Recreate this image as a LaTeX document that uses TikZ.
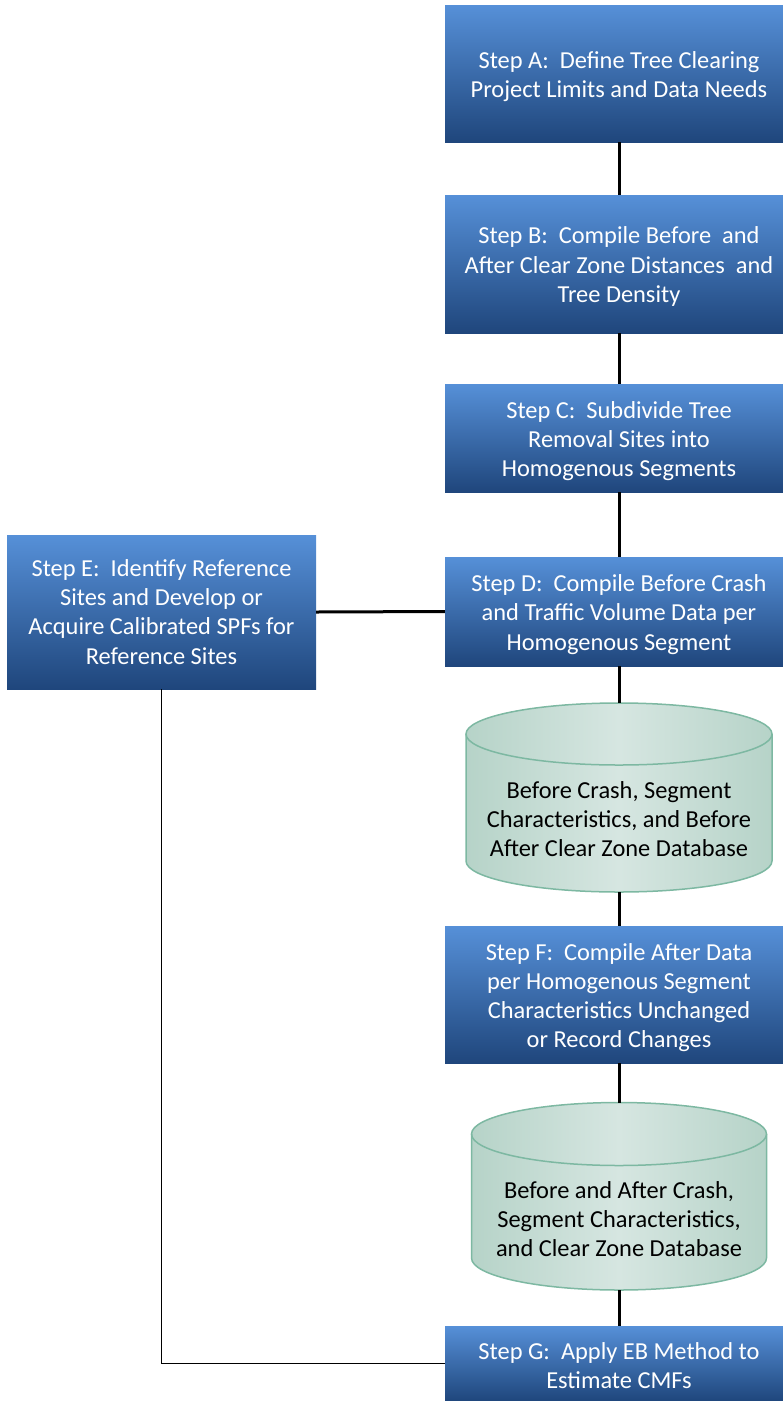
\documentclass[tikz,border=0pt]{standalone}
\usepackage{fontspec}
\setmainfont{Carlito}
\definecolor{boxtop}{HTML}{5690D8}
\definecolor{boxbot}{HTML}{1F467C}
\definecolor{cylside}{HTML}{B6D3C8}
\definecolor{cylmid}{HTML}{D6E6E1}
\definecolor{cylline}{HTML}{7DB8A2}
\tikzset{
  stepbox/.style={rectangle, top color=boxtop, bottom color=boxbot, inner sep=0pt},
  steptext/.style={text=white, align=center, inner sep=0pt, font=\fontsize{24.4}{29.2}\selectfont},
  dbtext/.style={align=center, inner sep=0pt, text=black, font=\fontsize{24.4}{29.2}\selectfont},
  link/.style={draw=black, line width=3pt},
  thinlink/.style={draw=black, line width=1.6pt},
  cylfill/.style={left color=cylside, right color=cylside, middle color=cylmid},
  cyledge/.style={draw=cylline, line width=1.5pt}
}
\begin{document}
\begin{tikzpicture}[x=1pt,y=-1pt]
\useasboundingbox (0,0) rectangle (783,1401);
\coordinate (spine) at (619,0);

% step boxes
\node[stepbox, minimum width=338pt, minimum height=137pt] (A) at (614,73.5) {};
\node[steptext] (At) at ([xshift=5pt,yshift=-3pt]A.center)
  {Step A:\ \ Define Tree Clearing\\Project Limits and Data Needs};
\node[stepbox, minimum width=338pt, minimum height=138pt] (B) at (614,264) {};
\node[steptext] (Bt) at ([xshift=5pt,yshift=-2.5pt]B.center)
  {Step B:\ \ Compile Before\ \ and\\After Clear Zone Distances\ \ and\\Tree Density};
\node[stepbox, minimum width=338pt, minimum height=108pt] (C) at (614,438) {};
\node[steptext] (Ct) at ([xshift=5pt,yshift=-3pt]C.center)
  {Step C:\ \ Subdivide Tree\\Removal Sites into\\Homogenous Segments};
\node[stepbox, minimum width=338pt, minimum height=109pt] (D) at (614,611.5) {};
\node[steptext] (Dt) at ([xshift=5pt,yshift=-3pt]D.center)
  {Step D:\ \ Compile Before Crash\\and Traffic Volume Data per\\Homogenous Segment};
\node[stepbox, minimum width=309pt, minimum height=154pt] (E) at (161.5,612) {};
\node[steptext] (Et) at (E.center)
  {Step E:\ \ Identify Reference\\Sites and Develop or\\Acquire Calibrated SPFs for\\Reference Sites};
\node[stepbox, minimum width=338pt, minimum height=137pt] (F) at (614,994.5) {};
\node[steptext] (Ft) at ([xshift=5pt,yshift=-3pt]F.center)
  {Step F:\ \ Compile After Data\\per Homogenous Segment\\Characteristics Unchanged\\or Record Changes};
\node[stepbox, minimum width=338pt, minimum height=75pt] (G) at (614,1363.5) {};
\node[steptext] (Gt) at ([xshift=5pt,yshift=-2pt]G.center)
  {Step G:\ \ Apply EB Method to\\Estimate CMFs};

% database cylinder 1
\path[cylfill] (466,734) -- (466,861) arc[start angle=180,end angle=0,x radius=153,y radius=31]
  -- (772,734) arc[start angle=0,end angle=-180,x radius=153,y radius=31] -- cycle;
\draw[cyledge] (466,734) -- (466,861) arc[start angle=180,end angle=0,x radius=153,y radius=31] -- (772,734);
\draw[cyledge] (619,734) ellipse[x radius=153,y radius=31];
\coordinate (db1top) at (619,703);
\coordinate (db1bot) at (619,892);
\node[dbtext] (db1) at (619,819)
  {Before Crash, Segment\\Characteristics, and Before\\After Clear Zone Database};

% database cylinder 2
\path[cylfill] (471.5,1134) -- (471.5,1258) arc[start angle=180,end angle=0,x radius=147.5,y radius=32]
  -- (766.5,1134) arc[start angle=0,end angle=-180,x radius=147.5,y radius=31.5] -- cycle;
\draw[cyledge] (471.5,1134) -- (471.5,1258) arc[start angle=180,end angle=0,x radius=147.5,y radius=32] -- (766.5,1134);
\draw[cyledge] (619,1134) ellipse[x radius=147.5,y radius=31.5];
\coordinate (db2top) at (619,1102.5);
\coordinate (db2bot) at (619,1290);
\node[dbtext] (db2) at (619,1219)
  {Before and After Crash,\\Segment Characteristics,\\and Clear Zone Database};

% connectors
\draw[link] (A.south -| spine) -- (B.north -| spine);
\draw[link] (B.south -| spine) -- (C.north -| spine);
\draw[link] (C.south -| spine) -- (D.north -| spine);
\draw[link] (D.south -| spine) -- (db1top);
\draw[link] (db1bot) -- (F.north -| spine);
\draw[link] (F.south -| spine) -- (db2top);
\draw[link] (db2bot) -- (G.north -| spine);
\draw[link] (E.east) -- (D.west);
\draw[thinlink] (E.south) |- (G.west);
\end{tikzpicture}
\end{document}
